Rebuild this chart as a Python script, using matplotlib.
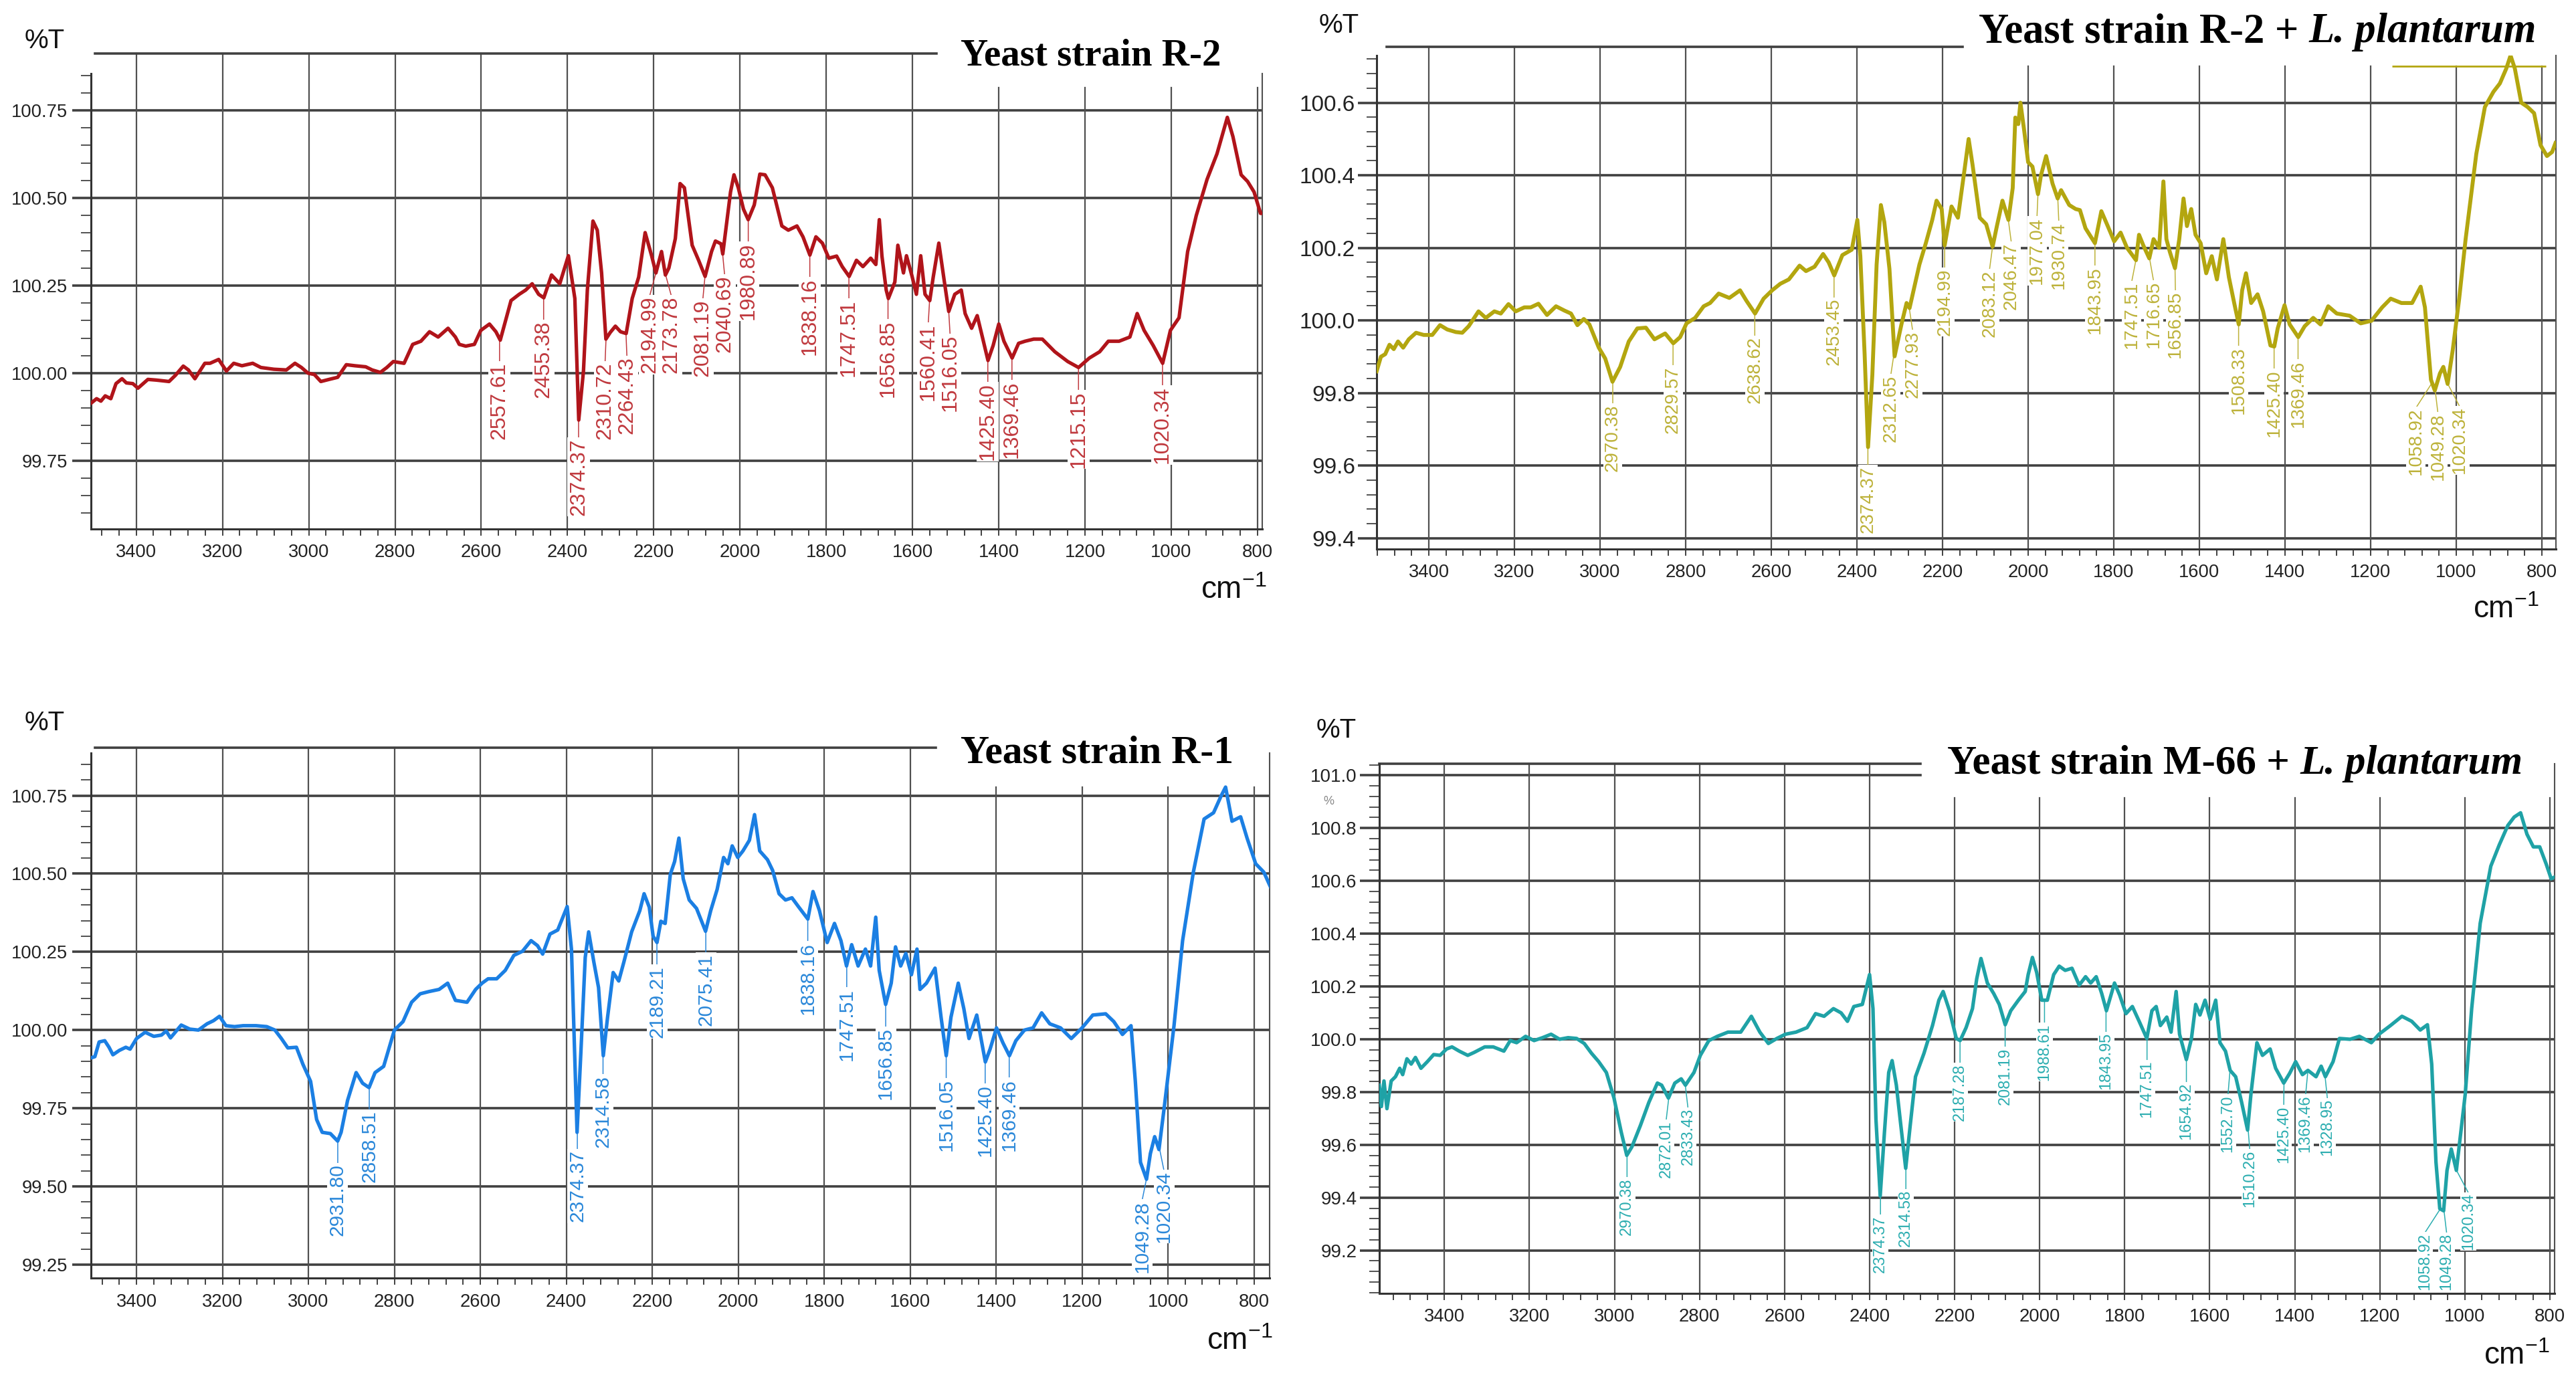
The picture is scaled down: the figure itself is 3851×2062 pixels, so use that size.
import numpy as np
import matplotlib
matplotlib.use('Agg')
import matplotlib.pyplot as plt
from matplotlib import font_manager
from matplotlib.ticker import MultipleLocator, FormatStrFormatter

# ---- data (wavenumber cm-1, %T) ----
r2_points = [
    (3504, 99.915), (3492, 99.927), (3482, 99.92), (3472, 99.935), (3459, 99.927), (3447, 99.97),
    (3433, 99.984), (3423, 99.972), (3408, 99.97), (3396, 99.957), (3373, 99.982), (3353, 99.98),
    (3324, 99.976), (3309, 99.994), (3291, 100.02), (3279, 100.009), (3264, 99.984), (3241, 100.028),
    (3229, 100.028), (3209, 100.039), (3191, 100.006), (3174, 100.028), (3155, 100.021), (3130, 100.028),
    (3111, 100.016), (3081, 100.011), (3052, 100.009), (3032, 100.028), (3017, 100.016), (3002, 100.0),
    (2987, 99.996), (2972, 99.976), (2953, 99.982), (2933, 99.988), (2913, 100.024), (2893, 100.021),
    (2868, 100.018), (2853, 100.009), (2834, 100.002), (2819, 100.016), (2804, 100.033), (2779, 100.028),
    (2759, 100.082), (2740, 100.091), (2720, 100.118), (2700, 100.103), (2677, 100.128), (2660, 100.103),
    (2651, 100.082), (2636, 100.077), (2616, 100.082), (2601, 100.122), (2581, 100.14), (2566, 100.118),
    (2556, 100.094), (2531, 100.207), (2512, 100.225), (2497, 100.237), (2482, 100.255), (2467, 100.225),
    (2455, 100.215), (2437, 100.28), (2418, 100.255), (2398, 100.335), (2383, 100.213), (2374, 99.866),
    (2363, 100.006), (2354, 100.237), (2341, 100.434), (2331, 100.408), (2321, 100.286), (2311, 100.097),
    (2301, 100.116), (2289, 100.134), (2277, 100.118), (2264, 100.113), (2250, 100.213), (2235, 100.274),
    (2220, 100.401), (2205, 100.335), (2195, 100.286), (2182, 100.347), (2173, 100.28), (2165, 100.3),
    (2150, 100.384), (2139, 100.541), (2129, 100.529), (2111, 100.365), (2096, 100.322), (2081, 100.276),
    (2066, 100.347), (2057, 100.377), (2044, 100.369), (2040, 100.34), (2022, 100.517), (2014, 100.566),
    (2004, 100.529), (1992, 100.468), (1981, 100.438), (1967, 100.48), (1954, 100.568), (1942, 100.566),
    (1925, 100.529), (1903, 100.42), (1888, 100.408), (1868, 100.42), (1854, 100.389), (1838, 100.337),
    (1824, 100.389), (1809, 100.371), (1794, 100.328), (1776, 100.334), (1763, 100.304), (1747, 100.276),
    (1730, 100.322), (1715, 100.304), (1697, 100.328), (1685, 100.31), (1677, 100.438), (1671, 100.335),
    (1661, 100.237), (1656, 100.213), (1641, 100.26), (1634, 100.365), (1621, 100.286), (1614, 100.335),
    (1601, 100.276), (1591, 100.225), (1581, 100.335), (1571, 100.225), (1560, 100.207), (1552, 100.274),
    (1539, 100.371), (1527, 100.268), (1516, 100.176), (1502, 100.225), (1487, 100.237), (1478, 100.17),
    (1463, 100.128), (1450, 100.164), (1438, 100.103), (1425, 100.036), (1413, 100.079), (1400, 100.14),
    (1388, 100.091), (1369, 100.043), (1354, 100.085), (1339, 100.091), (1319, 100.097), (1299, 100.097),
    (1270, 100.061), (1240, 100.033), (1215, 100.016), (1190, 100.043), (1166, 100.061), (1146, 100.091),
    (1121, 100.091), (1096, 100.103), (1079, 100.17), (1063, 100.122), (1042, 100.079), (1020, 100.028),
    (1002, 100.122), (982, 100.158), (962, 100.347), (942, 100.45), (917, 100.553), (894, 100.626),
    (870, 100.73), (857, 100.675), (838, 100.566), (823, 100.547), (808, 100.517), (793, 100.456),
    (785, 100.456),
]

r2lp_points = [
    (3522, 99.86), (3512, 99.90), (3502, 99.907), (3492, 99.933), (3482, 99.921), (3472, 99.942),
    (3460, 99.925), (3447, 99.948), (3430, 99.966), (3412, 99.96), (3392, 99.96), (3374, 99.987),
    (3357, 99.975), (3337, 99.968), (3322, 99.966), (3307, 99.984), (3284, 100.025), (3267, 100.007),
    (3247, 100.025), (3232, 100.019), (3214, 100.045), (3197, 100.025), (3177, 100.036), (3162, 100.036),
    (3144, 100.046), (3124, 100.015), (3103, 100.039), (3083, 100.027), (3068, 100.019), (3053, 99.987),
    (3038, 100.004), (3025, 99.989), (3003, 99.925), (2988, 99.895), (2971, 99.831), (2953, 99.872),
    (2933, 99.942), (2913, 99.978), (2893, 99.98), (2873, 99.948), (2848, 99.964), (2829, 99.937),
    (2813, 99.954), (2798, 99.992), (2778, 100.007), (2758, 100.039), (2743, 100.048), (2723, 100.074),
    (2698, 100.062), (2673, 100.083), (2658, 100.054), (2638, 100.019), (2618, 100.06), (2598, 100.083),
    (2579, 100.101), (2559, 100.113), (2534, 100.151), (2519, 100.136), (2499, 100.148), (2479, 100.183),
    (2466, 100.16), (2453, 100.124), (2434, 100.18), (2412, 100.195), (2399, 100.277), (2392, 100.177),
    (2382, 99.907), (2374, 99.651), (2364, 99.849), (2354, 100.154), (2344, 100.318), (2336, 100.271),
    (2324, 100.142), (2312, 99.901), (2296, 99.989), (2284, 100.048), (2277, 100.034), (2254, 100.154),
    (2239, 100.213), (2224, 100.277), (2214, 100.33), (2202, 100.307), (2195, 100.207), (2179, 100.314),
    (2164, 100.283), (2149, 100.412), (2139, 100.5), (2130, 100.43), (2113, 100.283), (2098, 100.265),
    (2083, 100.203), (2073, 100.26), (2060, 100.33), (2046, 100.277), (2036, 100.365), (2030, 100.559),
    (2023, 100.541), (2018, 100.6), (2010, 100.53), (2000, 100.436), (1990, 100.424), (1977, 100.348),
    (1970, 100.4), (1958, 100.453), (1943, 100.377), (1931, 100.336), (1923, 100.359), (1904, 100.318),
    (1889, 100.307), (1879, 100.304), (1866, 100.254), (1844, 100.213), (1829, 100.301), (1814, 100.26),
    (1799, 100.218), (1784, 100.242), (1769, 100.2), (1748, 100.166), (1741, 100.236), (1731, 100.207),
    (1717, 100.171), (1707, 100.224), (1694, 100.2), (1684, 100.383), (1677, 100.224), (1669, 100.189),
    (1657, 100.144), (1647, 100.224), (1637, 100.336), (1629, 100.26), (1619, 100.307), (1609, 100.236),
    (1597, 100.213), (1584, 100.13), (1571, 100.177), (1559, 100.113), (1544, 100.224), (1531, 100.119),
    (1519, 100.05), (1508, 99.989), (1500, 100.083), (1491, 100.13), (1479, 100.048), (1464, 100.072),
    (1451, 100.025), (1434, 99.931), (1425, 99.928), (1417, 99.978), (1401, 100.042), (1389, 99.989),
    (1369, 99.954), (1354, 99.984), (1334, 100.007), (1317, 99.989), (1299, 100.039), (1279, 100.019),
    (1249, 100.013), (1223, 99.992), (1198, 99.999), (1173, 100.036), (1153, 100.06), (1128, 100.048),
    (1103, 100.048), (1083, 100.093), (1073, 100.036), (1059, 99.837), (1050, 99.807), (1038, 99.854),
    (1030, 99.872), (1020, 99.825), (1008, 99.919), (993, 100.06), (978, 100.224), (953, 100.459),
    (933, 100.588), (913, 100.63), (898, 100.653), (883, 100.694), (873, 100.73), (863, 100.694),
    (848, 100.6), (833, 100.588), (818, 100.571), (803, 100.483), (788, 100.453), (776, 100.464),
    (768, 100.489),
]

r1_points = [
    (3506, 99.911), (3497, 99.915), (3487, 99.962), (3474, 99.966), (3464, 99.945), (3455, 99.921),
    (3440, 99.935), (3425, 99.945), (3415, 99.939), (3400, 99.973), (3380, 99.993), (3360, 99.98),
    (3342, 99.984), (3331, 99.997), (3321, 99.975), (3296, 100.016), (3276, 100.003), (3256, 100.0),
    (3236, 100.02), (3221, 100.03), (3207, 100.044), (3192, 100.014), (3172, 100.011), (3152, 100.014),
    (3122, 100.014), (3097, 100.011), (3078, 100.0), (3063, 99.973), (3048, 99.943), (3028, 99.945),
    (3013, 99.891), (2995, 99.836), (2981, 99.714), (2968, 99.673), (2949, 99.669), (2932, 99.645),
    (2924, 99.673), (2909, 99.775), (2889, 99.864), (2874, 99.83), (2859, 99.816), (2845, 99.864),
    (2825, 99.884), (2800, 100.0), (2780, 100.027), (2760, 100.089), (2740, 100.116), (2720, 100.123),
    (2696, 100.13), (2676, 100.15), (2658, 100.095), (2631, 100.089), (2611, 100.13), (2596, 100.15),
    (2582, 100.164), (2562, 100.164), (2542, 100.191), (2522, 100.239), (2502, 100.252), (2482, 100.286),
    (2467, 100.27), (2455, 100.243), (2438, 100.307), (2420, 100.32), (2406, 100.368), (2398, 100.395),
    (2388, 100.259), (2375, 99.673), (2366, 99.932), (2356, 100.232), (2348, 100.314), (2336, 100.218),
    (2325, 100.136), (2314, 99.918), (2304, 100.041), (2291, 100.184), (2278, 100.157), (2266, 100.218),
    (2248, 100.314), (2229, 100.382), (2219, 100.436), (2207, 100.393), (2198, 100.3), (2189, 100.28),
    (2180, 100.348), (2170, 100.341), (2158, 100.498), (2148, 100.539), (2138, 100.614), (2128, 100.484),
    (2114, 100.416), (2097, 100.389), (2076, 100.316), (2064, 100.382), (2049, 100.45), (2034, 100.552),
    (2024, 100.532), (2014, 100.589), (2001, 100.552), (1989, 100.573), (1974, 100.607), (1962, 100.689),
    (1950, 100.573), (1932, 100.545), (1920, 100.511), (1905, 100.436), (1890, 100.416), (1875, 100.423),
    (1860, 100.395), (1838, 100.355), (1826, 100.443), (1811, 100.382), (1793, 100.28), (1776, 100.341),
    (1761, 100.286), (1748, 100.205), (1736, 100.273), (1721, 100.205), (1704, 100.259), (1692, 100.205),
    (1680, 100.361), (1672, 100.191), (1657, 100.082), (1644, 100.15), (1634, 100.266), (1622, 100.205),
    (1610, 100.245), (1597, 100.177), (1584, 100.259), (1577, 100.13), (1562, 100.15), (1542, 100.198),
    (1528, 100.041), (1516, 99.918), (1505, 100.041), (1488, 100.15), (1475, 100.068), (1463, 99.973),
    (1445, 100.048), (1425, 99.898), (1414, 99.939), (1399, 100.007), (1384, 99.959), (1369, 99.918),
    (1354, 99.966), (1334, 100.0), (1314, 100.007), (1294, 100.055), (1275, 100.02), (1250, 100.007),
    (1225, 99.973), (1200, 100.007), (1175, 100.048), (1145, 100.052), (1126, 100.027), (1106, 99.986),
    (1086, 100.014), (1076, 99.836), (1064, 99.577), (1050, 99.523), (1041, 99.605), (1031, 99.659),
    (1021, 99.618), (1008, 99.761), (986, 100.014), (966, 100.286), (941, 100.505), (916, 100.675),
    (894, 100.695), (876, 100.75), (866, 100.777), (851, 100.668), (831, 100.682), (816, 100.614),
    (796, 100.532), (777, 100.505), (759, 100.45),
]

m66lp_points = [
    (3553, 99.826), (3548, 99.745), (3542, 99.842), (3535, 99.737), (3525, 99.842), (3515, 99.858),
    (3505, 99.89), (3498, 99.866), (3488, 99.926), (3478, 99.906), (3468, 99.931), (3455, 99.89),
    (3440, 99.915), (3425, 99.942), (3410, 99.939), (3395, 99.963), (3382, 99.971), (3365, 99.955),
    (3345, 99.939), (3330, 99.95), (3305, 99.971), (3285, 99.971), (3260, 99.955), (3245, 99.995),
    (3230, 99.987), (3209, 100.011), (3189, 99.995), (3169, 100.006), (3149, 100.019), (3129, 100.0),
    (3109, 100.006), (3089, 100.003), (3071, 99.984), (3054, 99.947), (3037, 99.915), (3019, 99.874),
    (3001, 99.777), (2984, 99.648), (2971, 99.56), (2959, 99.592), (2939, 99.673), (2919, 99.761),
    (2899, 99.834), (2889, 99.826), (2873, 99.777), (2858, 99.834), (2843, 99.85), (2833, 99.826),
    (2813, 99.874), (2798, 99.939), (2778, 99.995), (2758, 100.011), (2733, 100.027), (2703, 100.027),
    (2678, 100.087), (2658, 100.027), (2638, 99.984), (2618, 100.003), (2598, 100.019), (2573, 100.027),
    (2547, 100.044), (2527, 100.097), (2507, 100.087), (2485, 100.116), (2467, 100.1), (2452, 100.068),
    (2437, 100.124), (2417, 100.132), (2400, 100.245), (2392, 100.116), (2385, 99.697), (2375, 99.406),
    (2365, 99.648), (2355, 99.874), (2347, 99.919), (2337, 99.826), (2327, 99.681), (2315, 99.511),
    (2305, 99.665), (2292, 99.858), (2272, 99.947), (2252, 100.052), (2237, 100.148), (2227, 100.181),
    (2212, 100.108), (2196, 100.003), (2187, 99.995), (2173, 100.044), (2158, 100.116), (2148, 100.229),
    (2138, 100.306), (2123, 100.213), (2108, 100.173), (2095, 100.132), (2081, 100.055), (2068, 100.108),
    (2050, 100.148), (2034, 100.181), (2027, 100.245), (2017, 100.31), (2007, 100.253), (1995, 100.148),
    (1982, 100.148), (1967, 100.245), (1954, 100.277), (1940, 100.261), (1924, 100.269), (1907, 100.205),
    (1892, 100.237), (1880, 100.213), (1867, 100.237), (1854, 100.173), (1843, 100.108), (1824, 100.213),
    (1812, 100.168), (1797, 100.097), (1782, 100.124), (1766, 100.068), (1748, 100.003), (1736, 100.108),
    (1726, 100.124), (1716, 100.052), (1701, 100.084), (1691, 100.027), (1679, 100.181), (1671, 100.019),
    (1655, 99.923), (1643, 100.003), (1633, 100.132), (1623, 100.092), (1611, 100.148), (1599, 100.076),
    (1586, 100.148), (1576, 99.987), (1563, 99.955), (1552, 99.882), (1539, 99.858), (1525, 99.761),
    (1511, 99.656), (1503, 99.794), (1489, 99.987), (1476, 99.939), (1458, 99.963), (1445, 99.89),
    (1426, 99.834), (1412, 99.871), (1398, 99.915), (1382, 99.866), (1369, 99.882), (1350, 99.858),
    (1338, 99.898), (1328, 99.858), (1310, 99.915), (1295, 100.003), (1270, 100.0), (1248, 100.011),
    (1220, 99.987), (1202, 100.019), (1175, 100.052), (1148, 100.087), (1125, 100.068), (1105, 100.035),
    (1088, 100.055), (1078, 99.906), (1068, 99.535), (1059, 99.358), (1050, 99.35), (1042, 99.503),
    (1032, 99.584), (1020, 99.503), (1009, 99.656), (999, 99.794), (984, 100.116), (964, 100.439),
    (939, 100.656), (919, 100.737), (899, 100.81), (884, 100.842), (869, 100.858), (854, 100.777),
    (839, 100.729), (824, 100.729), (809, 100.665), (797, 100.608), (791, 100.613),
]

r2_peaks = ['2557.61', '2455.38', '2374.37', '2310.72', '2264.43', '2194.99', '2173.78', '2081.19',
            '2040.69', '1980.89', '1838.16', '1747.51', '1656.85', '1560.41', '1516.05', '1425.40',
            '1369.46', '1215.15', '1020.34']
r2lp_peaks = ['2970.38', '2829.57', '2638.62', '2453.45', '2374.37', '2312.65', '2277.93', '2194.99',
              '2083.12', '2046.47', '1977.04', '1930.74', '1843.95', '1747.51', '1716.65', '1656.85',
              '1508.33', '1425.40', '1369.46', '1058.92', '1049.28', '1020.34']
r1_peaks = ['2931.80', '2858.51', '2374.37', '2314.58', '2189.21', '2075.41', '1838.16', '1747.51',
            '1656.85', '1516.05', '1425.40', '1369.46', '1049.28', '1020.34']
m66lp_peaks = ['2970.38', '2872.01', '2833.43', '2374.37', '2314.58', '2187.28', '2081.19', '1988.61',
               '1843.95', '1747.51', '1654.92', '1552.70', '1510.26', '1425.40', '1369.46', '1328.95',
               '1058.92', '1049.28', '1020.34']

# flat trace along the top edge of the R-2 + L. plantarum panel
r2lp_top_trace = (100.70, 1150, 790)

FIG_W, FIG_H = 38.51, 20.62
fig = plt.figure(figsize=(FIG_W, FIG_H), dpi=100)
plt.rcParams['mathtext.default'] = 'regular'

installed = {f.name for f in font_manager.fontManager.ttflist}
if 'Liberation Sans Narrow' in installed:
    NARROW, NK = 'Liberation Sans Narrow', 1.0
else:
    NARROW, NK = 'Liberation Sans', 0.82
SANS = 'Liberation Sans'
SERIF = 'Liberation Serif'

HGRID = '#404040'
VGRID = '#505050'


def label_peaks(ax, wn, t, peaks, rect, xlim, color, size, sep=23.5, gap=25):
    vals = np.array([float(p) for p in peaks])
    w_pts = rect[2] * FIG_W * 72
    ppc = w_pts / (xlim[0] - xlim[1])
    order = np.argsort(-vals)
    base = (xlim[0] - vals[order]) * ppc
    pos = base.copy()
    for _ in range(300):
        moved = False
        for i in range(len(pos) - 1):
            d = pos[i + 1] - pos[i]
            if d < sep - 1e-6:
                s = (sep - d) / 2
                pos[i] -= s
                pos[i + 1] += s
                moved = True
        if not moved:
            break
    wa, ta = wn[::-1], t[::-1]
    for k, idx in enumerate(order):
        p = vals[idx]
        yv = min(np.interp(p + d, wa, ta) for d in (-4, 0, 4))
        ax.annotate(peaks[idx], xy=(p, yv), xytext=(pos[k] - base[k], -gap),
                    textcoords='offset points', rotation=90, ha='center', va='top',
                    fontsize=size, color=color, family=SANS, zorder=3,
                    annotation_clip=False,
                    bbox=dict(boxstyle='square,pad=0.05', fc='white', ec='none'),
                    arrowprops=dict(arrowstyle='-', color=color, lw=1.1,
                                    shrinkA=0, shrinkB=0, relpos=(0.5, 1.0)))


def draw_panel(pts, peaks, cfg):
    rect = cfg['rect']
    ax = fig.add_axes(rect)
    wn, t = np.array(pts).T
    ax.plot(wn, t, color=cfg['color'], lw=cfg['lw'], zorder=4, solid_joinstyle='round')
    ax.set_xlim(*cfg['xlim'])
    ax.set_ylim(*cfg['ylim'])

    ax.spines['top'].set_visible(False)
    for s in ('left', 'bottom'):
        ax.spines[s].set_linewidth(2.2)
        ax.spines[s].set_color('#333333')
    ax.spines['right'].set_linewidth(1.5)
    ax.spines['right'].set_color(VGRID)

    ax.xaxis.set_major_locator(MultipleLocator(200))
    ax.xaxis.set_minor_locator(MultipleLocator(40))
    ax.yaxis.set_major_locator(MultipleLocator(cfg['ystep']))
    ax.yaxis.set_minor_locator(MultipleLocator(cfg['yminor']))
    ax.yaxis.set_major_formatter(FormatStrFormatter(cfg['yfmt']))

    ax.tick_params(axis='x', which='both', direction='out', length=7, width=1.3,
                   color='#333333', pad=9, labelsize=24 * NK, labelfontfamily=NARROW,
                   labelcolor='#222222')
    ax.tick_params(axis='y', which='major', direction='out', length=cfg['ytl'], width=2.6,
                   color=HGRID, pad=cfg['ypad'], labelsize=cfg['ysize'],
                   labelfontfamily=cfg['yfont'], labelcolor='#222222')
    ax.tick_params(axis='y', which='minor', direction='out', length=11, width=1.2,
                   color='#333333')

    # horizontal grid
    lo, hi = cfg['ylim']
    for y in ax.yaxis.get_majorticklocs():
        if lo <= y <= hi:
            xmax = cfg.get('partial', {}).get(round(y, 2), 1.0)
            ax.axhline(y, 0, xmax, color=HGRID, lw=2.6, zorder=1)
    # vertical grid, shorter under the title
    for x in range(800, 3600, 200):
        if cfg['xlim'][1] <= x <= cfg['xlim'][0]:
            top = cfg['vhi'] if x >= cfg['vsplit'] else cfg['vlo']
            ax.axvline(x, 0, top, color=VGRID, lw=1.6, zorder=1, clip_on=False)
    # separator line left of the title
    x0, x1, yl = cfg['topline']
    ax.plot([x0, x1], [yl, yl], transform=ax.transAxes, color=HGRID, lw=2.6,
            clip_on=False, zorder=1)

    label_peaks(ax, wn, t, peaks, rect, cfg['xlim'], cfg['lcolor'], cfg['lsize'])

    # %T and cm-1
    fig.text(cfg['pt'][0], cfg['pt'][1], '%T', ha='center', va='center', fontsize=29,
             family=SANS, color='#111111')
    fig.text(cfg['cm'][0], cfg['cm'][1], 'cm$^{-1}$', ha='center', va='center', fontsize=33,
             family=SANS, color='#111111')

    # title, with the species name in italics
    tx, ty = cfg['tpos']
    main, ital = cfg['title']
    t1 = fig.text(tx, ty, main, ha='left', va='center', fontsize=cfg['tsize'],
                  family=SERIF, weight='bold', color='black')
    if ital:
        ax.annotate(ital, xy=(1, 0), xycoords=t1, xytext=(cfg['tsize'] * 0.25, 0),
                    textcoords='offset points', ha='left', va='bottom',
                    fontsize=cfg['tsize'], family=SERIF, weight='bold', style='italic',
                    color='black', annotation_clip=False)
    return ax


cfg_r2 = dict(rect=[0.03532, 0.61639, 0.45469, 0.33026], xlim=(3505, 789), ylim=(99.555, 100.855),
              ystep=0.25, yminor=0.05, yfmt='%.2f', yfont=NARROW, ysize=24 * NK, ytl=20, ypad=5,
              color='#b0141a', lcolor='#c0393e', lw=3.8, lsize=23,
              vhi=1.044, vlo=0.969, vsplit=1600, topline=(0.0034, 0.722, 1.044),
              pt=(0.0174, 0.9704), cm=(0.4788, 0.5718), tpos=(0.3729, 0.9597),
              title=('Yeast strain R-2', None), tsize=41)
cfg_r2lp = dict(rect=[0.53441, 0.60184, 0.45780, 0.35791], xlim=(3522, 767), ylim=(99.37, 100.73),
                ystep=0.2, yminor=0.04, yfmt='%.1f', yfont=SANS, ysize=24, ytl=20, ypad=3,
                color='#b3a60f', lcolor='#bdb23a', lw=4.2, lsize=20,
                vhi=1.0176, vlo=0.978, vsplit=2200, topline=(0.0085, 0.497, 1.0176),
                pt=(0.5199, 0.9816), cm=(0.9727, 0.5577), tpos=(0.7680, 0.9767),
                title=('Yeast strain R-2 +', 'L. plantarum'), tsize=45)
cfg_r1 = dict(rect=[0.03532, 0.07299, 0.45755, 0.38094], xlim=(3506, 763.5), ylim=(99.206, 100.886),
              ystep=0.25, yminor=0.05, yfmt='%.2f', yfont=NARROW, ysize=24 * NK, ytl=20, ypad=5,
              color='#1b7fe3', lcolor='#2b88d9', lw=3.8, lsize=21.5,
              vhi=1.0108, vlo=0.935, vsplit=1600, topline=(0.0034, 0.717, 1.0108),
              pt=(0.0174, 0.4757), cm=(0.4812, 0.0272), tpos=(0.3729, 0.4539),
              title=('Yeast strain R-1', None), tsize=43)
cfg_m66 = dict(rect=[0.53544, 0.06208, 0.45625, 0.38409], xlim=(3553, 789), ylim=(99.037, 101.044),
               ystep=0.2, yminor=0.04, yfmt='%.1f', yfont=SANS, ysize=20, ytl=21, ypad=3,
               color='#1fa2a6', lcolor='#2badb0', lw=3.8, lsize=17,
               vhi=1.0, vlo=0.9356, vsplit=2400, topline=(0.0, 0.4604, 1.0),
               partial={101.0: 0.4604},
               pt=(0.5188, 0.4704), cm=(0.9769, 0.0165), tpos=(0.7559, 0.4462),
               title=('Yeast strain M-66 +', 'L. plantarum'), tsize=44)

draw_panel(r2_points, r2_peaks, cfg_r2)
ax_tr = draw_panel(r2lp_points, r2lp_peaks, cfg_r2lp)
ax_tr.hlines(r2lp_top_trace[0], r2lp_top_trace[1], r2lp_top_trace[2],
             color=cfg_r2lp['color'], lw=2.0, zorder=4)
draw_panel(r1_points, r1_peaks, cfg_r1)
draw_panel(m66lp_points, m66lp_peaks, cfg_m66)

# stray mark next to the M-66 axis
fig.text(0.5158, 0.4188, '%', fontsize=13, color='#888888', ha='center', va='center', family=SANS)

fig.savefig('out.png', dpi=100)
